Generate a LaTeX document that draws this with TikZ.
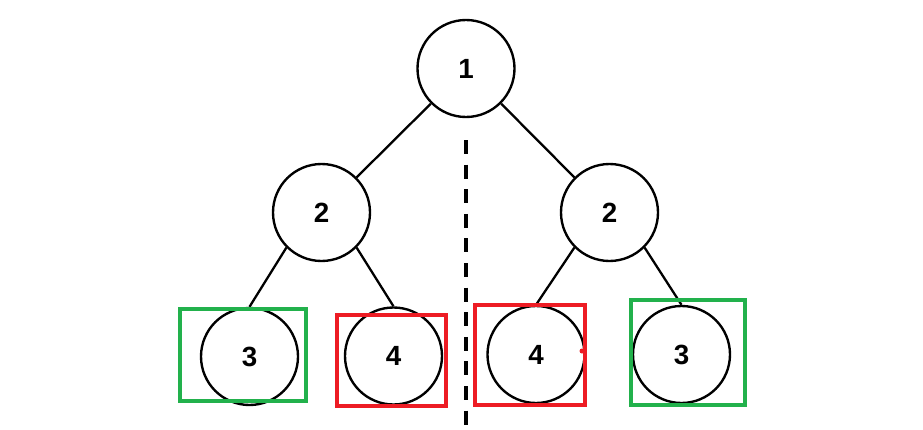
\documentclass[tikz,border=0pt]{standalone}
\usepackage{fontspec}
\setmainfont{Liberation Sans}
\usepackage{tikz}
\usetikzlibrary{arrows.meta, calc, positioning}
\usepackage{xcolor}
\definecolor{pickgreen}{RGB}{34, 177, 76}
\definecolor{pickred}{RGB}{237, 28, 36}

\begin{document}
\begin{tikzpicture}[
    treenode/.style={circle, draw=black, line width=1.35pt, fill=white,
                     minimum size=1.94cm, inner sep=0pt,
                     font=\fontsize{15.8}{18}\selectfont\bfseries},
    edge/.style={draw=black, line width=1.3pt},
    pickbox/.style={line width=2.6pt}]
  \useasboundingbox (0,0) rectangle (18.46,-8.6);
  %--- mirror axis -----------------------------------------------------------
  \draw[line width=2pt, dash pattern=on 8pt off 6pt] (9.32,-2.8) -- (9.32,-8.6);
  %--- tree ------------------------------------------------------------------
  \node[treenode] (root) at (9.32,-1.37) {1};
  \node[treenode] (lefttwo) at (6.43,-4.25) {2};
  \node[treenode] (righttwo) at (12.19,-4.25) {2};
  \node[treenode] (leftthree) at (4.99,-7.13) {3};
  \node[treenode] (leftfour) at (7.87,-7.12) {4};
  \node[treenode] (rightfour) at (10.72,-7.09) {4};
  \node[treenode] (rightthree) at (13.63,-7.09) {3};
  \draw[edge] (root.south west) -- (lefttwo.north east);
  \draw[edge] (root.south east) -- (righttwo.north west);
  \draw[edge] (lefttwo.south west) -- (leftthree.north);
  \draw[edge] (lefttwo.south east) -- (leftfour.north);
  \draw[edge] (righttwo.south west) -- (rightfour.north);
  \draw[edge] (righttwo.south east) -- (rightthree.north);
  %--- matching pairs --------------------------------------------------------
  \draw[pickbox, pickgreen] (3.6,-6.18) rectangle (6.12,-8.02);
  \draw[pickbox, pickred] (6.74,-6.30) rectangle (8.92,-8.12);
  \draw[pickbox, pickred] (9.50,-6.10) rectangle (11.70,-8.10);
  \draw[pickbox, pickgreen] (12.62,-6.00) rectangle (14.90,-8.10);
  \fill[pickred] (11.64,-7.02) circle(0.05);
\end{tikzpicture}
\end{document}
